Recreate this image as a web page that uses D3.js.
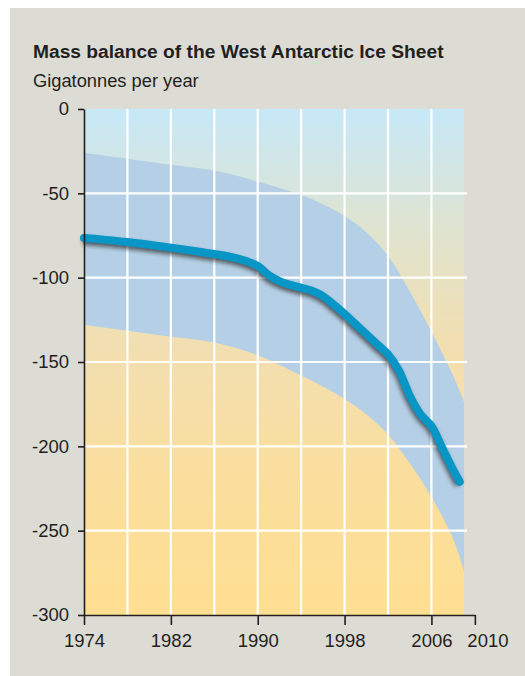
<!DOCTYPE html>
<html>
<head>
<meta charset="utf-8">
<script src="https://cdn.jsdelivr.net/npm/d3@7"></script>
<style>
  html, body { margin: 0; padding: 0; background: #ffffff; }
  svg { display: block; }
  text { font-family: "Liberation Sans", Arial, Helvetica, sans-serif; fill: #231f20; }
</style>
</head>
<body>
<svg id="chart" width="525" height="676"></svg>
<script>
// Central estimate of West Antarctic mass balance (Gt/yr)
const lineYears  = [1974, 1976, 1978, 1980, 1982, 1984, 1986, 1988, 1989, 1990, 1991, 1992, 1993, 1994, 1995, 1996, 1997, 1998, 1999, 2000, 2001, 2002, 2003, 2004, 2005, 2006, 2007, 2008, 2008.6];
const lineValues = [-76.5, -77.6, -78.9, -80.5, -82.2, -84, -86, -88.4, -90.3, -93, -98.5, -102, -104.3, -106, -107.8, -111, -116, -121.5, -127.5, -133.5, -139.5, -145.5, -155, -170, -181, -188, -201, -214, -221];

// Uncertainty envelope
const bandYears = [1974, 1978, 1982, 1986, 1990, 1994, 1996, 1998, 2000, 2002, 2004, 2006, 2008, 2009];
const bandUpper = [-26, -29.5, -33, -36.5, -43, -51, -56.5, -63.5, -73, -87, -108, -132, -158, -173.5];
const bandLower = [-128, -131.4, -135, -138.5, -146, -158, -164.5, -172, -181, -193, -210, -230, -255, -274];

// Axes
const yTicks = [0, -50, -100, -150, -200, -250, -300];
const xTicks = [1974, 1982, 1990, 1998, 2006, 2010];
const xGrid  = [1978, 1982, 1986, 1990, 1994, 1998, 2002, 2006];

const titleText = "Mass balance of the West Antarctic Ice Sheet";
const subtitleText = "Gigatonnes per year";

const svg = d3.select("#chart");

// Panel background
svg.append("rect").attr("x", 10).attr("y", 8).attr("width", 515).attr("height", 668).attr("fill", "#dddcd4");

const x = d3.scaleLinear().domain([1974, 2009]).range([84, 464]);
const y = d3.scaleLinear().domain([0, -300]).range([109, 615]);

const defs = svg.append("defs");
const grad = defs.append("linearGradient").attr("id", "bg").attr("x1", 0).attr("y1", 0).attr("x2", 0).attr("y2", 1);
[["0%", "#c7e8f8"], ["22%", "#dde4d2"], ["45%", "#f1dfb2"], ["75%", "#fbde9c"], ["100%", "#fedf92"]]
  .forEach(([o, c]) => grad.append("stop").attr("offset", o).attr("stop-color", c));

const shadow = defs.append("filter").attr("id", "shadow").attr("x", "-10%").attr("y", "-10%").attr("width", "120%").attr("height", "120%");
shadow.append("feGaussianBlur").attr("stdDeviation", 2);

const x0 = 1974, x1 = 2009;

// Plot background
svg.append("rect")
  .attr("x", x(x0)).attr("y", y(0))
  .attr("width", x(x1) - x(x0)).attr("height", y(-300) - y(0))
  .attr("fill", "url(#bg)");

// Uncertainty band
const band = bandYears.map((yr, i) => ({ yr, hi: bandUpper[i], lo: bandLower[i] }));
svg.append("path")
  .datum(band)
  .attr("fill", "#b5d0e6")
  .attr("d", d3.area().curve(d3.curveCatmullRom.alpha(0.5)).x(d => x(d.yr)).y0(d => y(d.lo)).y1(d => y(d.hi)));

// Grid lines
const grid = svg.append("g").attr("stroke", "#ffffff").attr("stroke-width", 2.2);
grid.selectAll("line.h").data(yTicks.filter(v => v !== 0 && v !== -300)).join("line")
  .attr("x1", x(x0)).attr("x2", x(x1) + 3)
  .attr("y1", d => y(d)).attr("y2", d => y(d));
grid.selectAll("line.v").data(xGrid).join("line")
  .attr("x1", d => x(d)).attr("x2", d => x(d))
  .attr("y1", y(0)).attr("y2", y(-300));

// Central estimate with soft shadow
const pts = lineYears.map((yr, i) => ({ yr, v: lineValues[i] }));
const lineGen = d3.line().curve(d3.curveCatmullRom.alpha(0.5)).x(d => x(d.yr)).y(d => y(d.v));
svg.append("path")
  .datum(pts)
  .attr("fill", "none")
  .attr("stroke", "#2b2b2b")
  .attr("stroke-opacity", 0.7)
  .attr("stroke-width", 8)
  .attr("transform", "translate(-1,3)")
  .attr("filter", "url(#shadow)")
  .attr("d", lineGen);
svg.append("path")
  .datum(pts)
  .attr("fill", "none")
  .attr("stroke", "#0796c6")
  .attr("stroke-width", 8)
  .attr("stroke-linecap", "round")
  .attr("stroke-linejoin", "round")
  .attr("d", lineGen);

const hyphenFmt = d => String(d);

// Y axis
const yAxis = svg.append("g")
  .attr("transform", `translate(${x(x0)},0)`)
  .call(d3.axisLeft(y).tickValues(yTicks).tickFormat(hyphenFmt).tickSize(6).tickPadding(9).tickSizeOuter(0));
yAxis.select(".domain").attr("stroke", "#231f20").attr("stroke-width", 1.6);
yAxis.selectAll(".tick line").attr("stroke", "#231f20").attr("stroke-width", 1.6);
yAxis.selectAll(".tick text").attr("font-size", 18.5).attr("fill", "#231f20")
  .style("font-family", '"Liberation Sans", Arial, sans-serif');

// X axis
const xa = d3.scaleLinear().domain([1974, 2010]).range([x(1974), x(2010)]);
const xAxis = svg.append("g")
  .attr("transform", `translate(0,${y(-300)})`)
  .call(d3.axisBottom(xa).tickValues(xTicks).tickFormat(hyphenFmt).tickSize(10).tickPadding(9).tickSizeOuter(0));
xAxis.select(".domain").attr("stroke", "#231f20").attr("stroke-width", 1.6);
xAxis.selectAll(".tick line").attr("stroke", "#231f20").attr("stroke-width", 1.6);
xAxis.selectAll(".tick text").attr("font-size", 18.5).attr("fill", "#231f20")
  .style("font-family", '"Liberation Sans", Arial, sans-serif');
// last label is nudged right so it clears its neighbour
xAxis.selectAll(".tick text").filter(d => d === 2010).attr("text-anchor", "start").attr("x", -8);

// Titles
svg.append("text").attr("x", 33).attr("y", 57.5).attr("font-size", 19.2).attr("font-weight", "bold")
  .text(titleText);
svg.append("text").attr("x", 33).attr("y", 86.5).attr("font-size", 18.3)
  .text(subtitleText);
</script>
</body>
</html>
